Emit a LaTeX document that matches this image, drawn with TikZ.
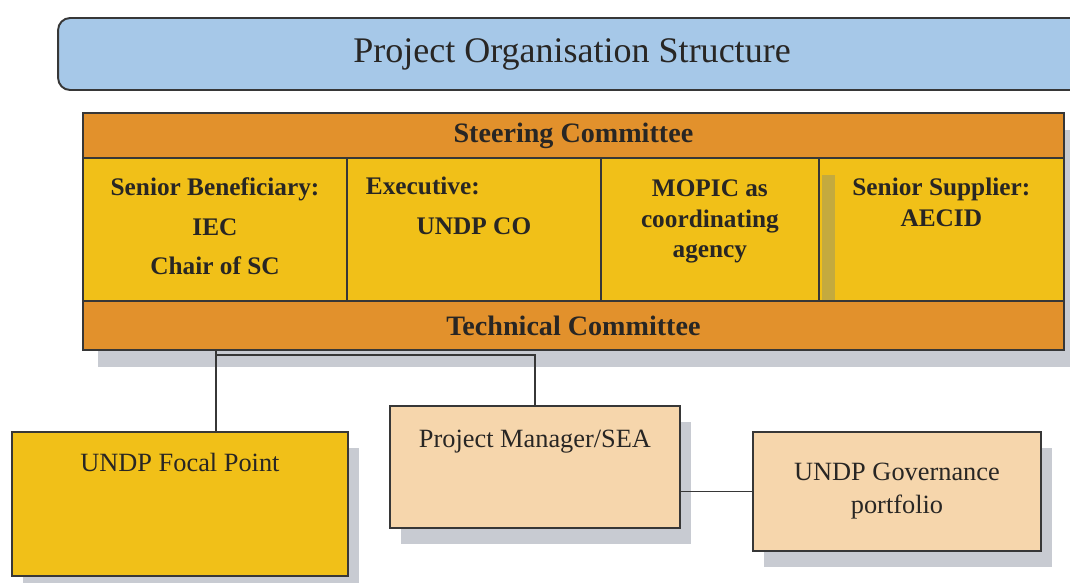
\documentclass[tikz,border=0pt]{standalone}
\usepackage{fontspec}
\setmainfont{Liberation Serif}
\usetikzlibrary{positioning, shadows, backgrounds}

\definecolor{titleblue}{RGB}{166,200,232}
\definecolor{bandorange}{RGB}{226,145,44}
\definecolor{cellyellow}{RGB}{241,192,24}
\definecolor{boxpeach}{RGB}{246,214,172}
\definecolor{shadowgray}{RGB}{200,203,210}
\definecolor{barshade}{RGB}{196,170,62}
\definecolor{edgegray}{RGB}{55,55,55}
\definecolor{inkgray}{RGB}{40,38,36}

\tikzset{
    org_title/.style={
        rectangle,
        rounded corners=0.24cm,
        draw=edgegray,
        fill=titleblue,
        line width=1.1pt,
        outer sep=0pt,
        text=inkgray,
        font=\fontsize{20.5}{24}\selectfont
    },
    org_band/.style={
        rectangle,
        draw=edgegray,
        fill=bandorange,
        line width=0.9pt,
        minimum width=19.62cm,
        inner sep=2pt,
        outer sep=0pt,
        text=inkgray,
        font=\bfseries\fontsize{16}{19}\selectfont
    },
    org_cell/.style={
        rectangle,
        draw=edgegray,
        fill=cellyellow,
        line width=0.9pt,
        minimum height=2.86cm,
        outer sep=0pt
    },
    org_cell_text/.style={
        inner sep=0pt,
        align=center,
        text=inkgray,
        font=\bfseries\fontsize{14.4}{17.6}\selectfont
    },
    org_box/.style={
        rectangle,
        draw=edgegray,
        line width=0.9pt,
        outer sep=0pt,
        drop shadow={shadow xshift=0.22cm, shadow yshift=-0.32cm, fill=shadowgray, opacity=1}
    },
    org_box_text/.style={
        inner sep=0pt,
        align=center,
        text=inkgray,
        font=\fontsize{15}{18.7}\selectfont
    },
    org_link/.style={
        draw=edgegray,
        line width=0.8pt
    }
}

\begin{document}
\begin{tikzpicture}[x=0.02cm, y=-0.02cm]
\useasboundingbox (0,0) rectangle (1070,582);
\clip (0,0) rectangle (1070,582);

% --- Title bar ---
\node[org_title, minimum width=20.56cm, minimum height=1.44cm] (title) at (572,54) {Project Organisation Structure};

% --- Committee block ---
\node[org_band, minimum height=0.9cm, anchor=north west] (steer) at (83,113) {Steering Committee};
\node[org_cell, minimum width=5.28cm, below right=0pt and 0pt of steer.south west] (benef) {};
\node[org_cell, minimum width=5.08cm, right=0pt of benef] (exec) {};
\node[org_cell, minimum width=4.36cm, right=0pt of exec] (mopic) {};
\node[org_cell, minimum width=4.90cm, right=0pt of mopic] (supplier) {};
\node[org_band, minimum height=0.98cm, below right=0pt and 0pt of benef.south west] (tech) {Technical Committee};

\begin{scope}[on background layer]
\fill[shadowgray] ([xshift=0.3cm, yshift=-0.34cm]steer.north west) rectangle ([xshift=0.3cm, yshift=-0.34cm]tech.south east);
\end{scope}
\fill[barshade] ([xshift=0.06cm, yshift=-0.34cm]supplier.north west) rectangle ([xshift=0.32cm, yshift=0.02cm]supplier.south west);

\node[org_cell_text, below=0.38cm of benef.north] (benefText) {Senior Beneficiary:\\[5.1pt] IEC\\[5.1pt] Chair of SC};
\node[org_cell_text, below=0.38cm of exec.north] (execText) {\makebox[4.32cm][l]{Executive:}\\[5.1pt] UNDP CO};
\node[org_cell_text, below=0.42cm of mopic.north] (mopicText) {MOPIC as\\ coordinating\\ agency};
\node[org_cell_text, below=0.4cm of supplier.north] (supplierText) {Senior Supplier:\\ AECID};

% --- Lower row ---
\node[org_box, fill=cellyellow, minimum width=6.72cm, minimum height=2.88cm, anchor=north west] (focal) at (12,432) {};
\node[org_box, fill=boxpeach, minimum width=5.8cm, minimum height=2.44cm, anchor=north west] (pm) at (390,406) {};
\node[org_box, fill=boxpeach, minimum width=5.76cm, minimum height=2.38cm, anchor=north west] (gov) at (753,432) {};

\node[org_box_text, below=0.42cm of focal.north] (focalText) {UNDP Focal Point};
\node[org_box_text, below=0.48cm of pm.north] (pmText) {Project Manager/SEA};
\node[org_box_text] (govText) at (gov) {UNDP Governance\\ portfolio};

% --- Links ---
\coordinate (hub) at (216,355);
\draw[org_link] (hub |- tech.south) -- (hub |- focal.north);
\draw[org_link] (hub) -| (pm.north);
\draw[org_link] (gov.west) -- (gov.west -| pm.east);

\end{tikzpicture}
\end{document}
